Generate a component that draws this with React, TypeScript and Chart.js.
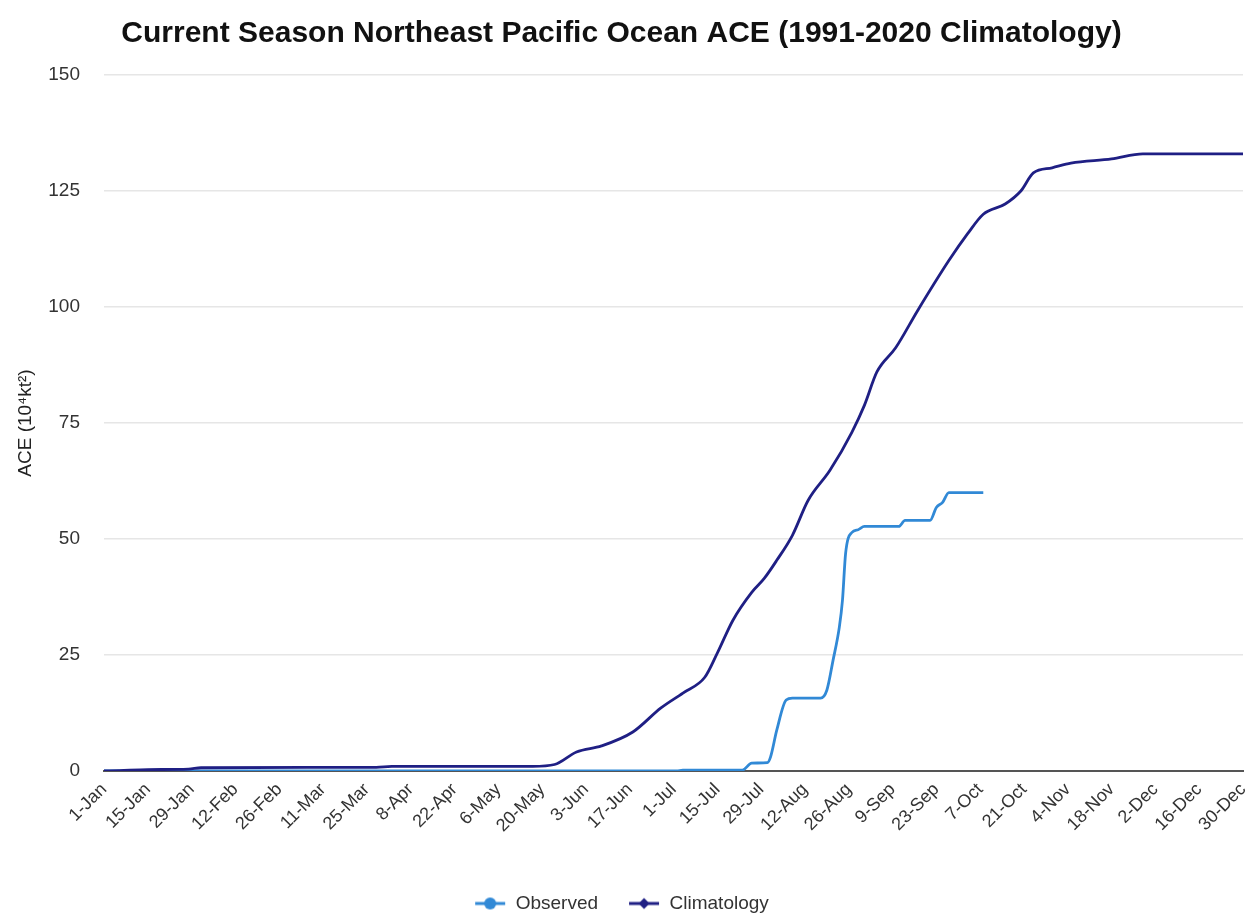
import React, { useEffect, useRef } from "react";
import { Chart, registerables } from "chart.js";

Chart.register(...registerables);

const TITLE = "Current Season Northeast Pacific Ocean ACE (1991-2020 Climatology)";
const Y_TITLE = "ACE (10⁴kt²)";
const X_TICK_LABELS = [
  "1-Jan", "15-Jan", "29-Jan", "12-Feb", "26-Feb", "11-Mar", "25-Mar", "8-Apr", "22-Apr",
  "6-May", "20-May", "3-Jun", "17-Jun", "1-Jul", "15-Jul", "29-Jul", "12-Aug", "26-Aug",
  "9-Sep", "23-Sep", "7-Oct", "21-Oct", "4-Nov", "18-Nov", "2-Dec", "16-Dec", "30-Dec",
];
const X_TICK_STEP_DAYS = 14;
const X_MAX_DAY = 364;
const Y_MIN = 0;
const Y_MAX = 150;
const Y_STEP = 25;

const SERIES_NAMES = ["Observed", "Climatology"];
const SERIES_COLORS = ["#3189d6", "#1f1f84"];

// day of year (0 = 1-Jan) and ACE value
const OBSERVED_DAYS = [0, 183, 185, 204, 207, 212, 213, 215, 218, 220, 229, 231, 233, 235, 236, 237, 239, 241, 243, 254, 256, 264, 266, 268, 270, 281];
const OBSERVED_VALUES = [0, 0, 0.2, 0.2, 1.7, 1.8, 3, 8.8, 15.3, 15.7, 15.7, 17.4, 23.9, 31, 36.8, 46.9, 51.4, 52, 52.7, 52.7, 54, 54, 56.8, 57.9, 60, 60];

const CLIMATOLOGY_DAYS = [0, 5, 14, 27, 31, 87, 92, 137, 144, 151, 159, 169, 178, 185, 192, 196, 201, 207, 211, 215, 220, 225, 232, 239, 243, 247, 253, 260, 270, 276, 281, 288, 293, 297, 303, 309, 322, 332, 364];
const CLIMATOLOGY_VALUES = [0, 0.1, 0.3, 0.4, 0.7, 0.8, 1.0, 1.0, 1.4, 4.1, 5.4, 8.4, 13.6, 16.8, 20.2, 25.4, 32.5, 38.5, 41.5, 45.4, 50.8, 58.3, 64.8, 73, 78.8, 86, 91.2, 99.2, 110, 115.8, 120, 122.2, 125, 128.9, 130, 131, 131.9, 133, 133];

const FONT = "'Liberation Sans', Arial, Helvetica, sans-serif";

function makeIcon(color: string, shape: "circle" | "diamond") {
  const c = document.createElement("canvas");
  c.width = 32;
  c.height = 14;
  const ctx = c.getContext("2d")!;
  ctx.strokeStyle = color;
  ctx.lineWidth = 3;
  ctx.beginPath();
  ctx.moveTo(1, 7);
  ctx.lineTo(31, 7);
  ctx.stroke();
  ctx.fillStyle = color;
  ctx.beginPath();
  if (shape === "circle") {
    ctx.arc(16, 7, 6, 0, Math.PI * 2);
  } else {
    ctx.moveTo(16, 1.5);
    ctx.lineTo(21.5, 7);
    ctx.lineTo(16, 12.5);
    ctx.lineTo(10.5, 7);
    ctx.closePath();
  }
  ctx.fill();
  return c;
}

export default function App() {
  const ref = useRef<HTMLCanvasElement | null>(null);

  useEffect(() => {
    document.body.style.margin = "0";
    const canvas = ref.current;
    if (!canvas) return;
    const icons = [makeIcon(SERIES_COLORS[0], "circle"), makeIcon(SERIES_COLORS[1], "diamond")];

    const observed = OBSERVED_DAYS.map((d, i) => ({ x: d, y: OBSERVED_VALUES[i] }));
    const climatology = CLIMATOLOGY_DAYS.map((d, i) => ({ x: d, y: CLIMATOLOGY_VALUES[i] }));

    const chart = new Chart(canvas, {
      type: "line",
      data: {
        datasets: [
          {
            label: SERIES_NAMES[0],
            data: observed,
            borderColor: SERIES_COLORS[0],
            backgroundColor: SERIES_COLORS[0],
            borderWidth: 2.8,
            pointRadius: 0,
            cubicInterpolationMode: "monotone",
            order: 2,
          },
          {
            label: SERIES_NAMES[1],
            data: climatology,
            borderColor: SERIES_COLORS[1],
            backgroundColor: SERIES_COLORS[1],
            borderWidth: 2.8,
            pointRadius: 0,
            cubicInterpolationMode: "monotone",
            order: 1,
          },
        ],
      },
      options: {
        animation: false,
        responsive: false,
        devicePixelRatio: 1,
        layout: { padding: { top: 0, right: 7, bottom: -7, left: 0 } },
        plugins: {
          title: {
            display: true,
            text: TITLE,
            color: "#111",
            font: { family: FONT, size: 30, weight: "bold" },
            padding: { top: 16, bottom: 23 },
          },
          legend: {
            position: "bottom",
            labels: {
              usePointStyle: true,
              pointStyleWidth: 32,
              color: "#333",
              padding: 30,
              font: { family: FONT, size: 19 },
              sort: (a: any, b: any) => a.datasetIndex - b.datasetIndex,
              generateLabels: (ch: any) => {
                const items = Chart.defaults.plugins.legend.labels.generateLabels(ch);
                items.forEach((it: any) => {
                  it.pointStyle = icons[it.datasetIndex];
                });
                return items;
              },
            },
          },
          tooltip: { enabled: false },
        },
        scales: {
          x: {
            type: "linear",
            min: 0,
            max: X_MAX_DAY,
            grid: { display: false, drawTicks: false },
            border: { display: true, color: "#555", width: 2 },
            afterFit: (s: any) => {
              s.height = 93;
              s.paddingLeft = 0;
              s.paddingRight = 0;
            },
            afterBuildTicks: (s: any) => {
              s.ticks = X_TICK_LABELS.map((_, i) => ({ value: i * X_TICK_STEP_DAYS }));
            },
            ticks: {
              autoSkip: false,
              minRotation: 45,
              maxRotation: 45,
              padding: 8,
              color: "#333",
              font: { family: FONT, size: 18 },
              callback: (v: any) => X_TICK_LABELS[Math.round(Number(v) / X_TICK_STEP_DAYS)] ?? "",
            },
          },
          y: {
            min: Y_MIN,
            max: Y_MAX,
            afterFit: (s: any) => {
              s.width = 104;
            },
            grid: {
              drawTicks: false,
              color: (c: any) => (c.tick && c.tick.value === 0 ? "rgba(0,0,0,0)" : "#e6e6e6"),
              lineWidth: 1.5,
            },
            border: { display: false },
            ticks: {
              stepSize: Y_STEP,
              padding: 24,
              color: "#333",
              font: { family: FONT, size: 19 },
            },
            title: {
              display: true,
              text: Y_TITLE,
              color: "#222",
              font: { family: FONT, size: 19 },
              padding: { top: 14, bottom: 0 },
            },
          },
        },
      },
    } as any);

    return () => chart.destroy();
  }, []);

  return (
    <div style={{ width: 1250, height: 916, background: "#fff" }}>
      <canvas ref={ref} width={1250} height={916} style={{ display: "block" }} />
    </div>
  );
}
